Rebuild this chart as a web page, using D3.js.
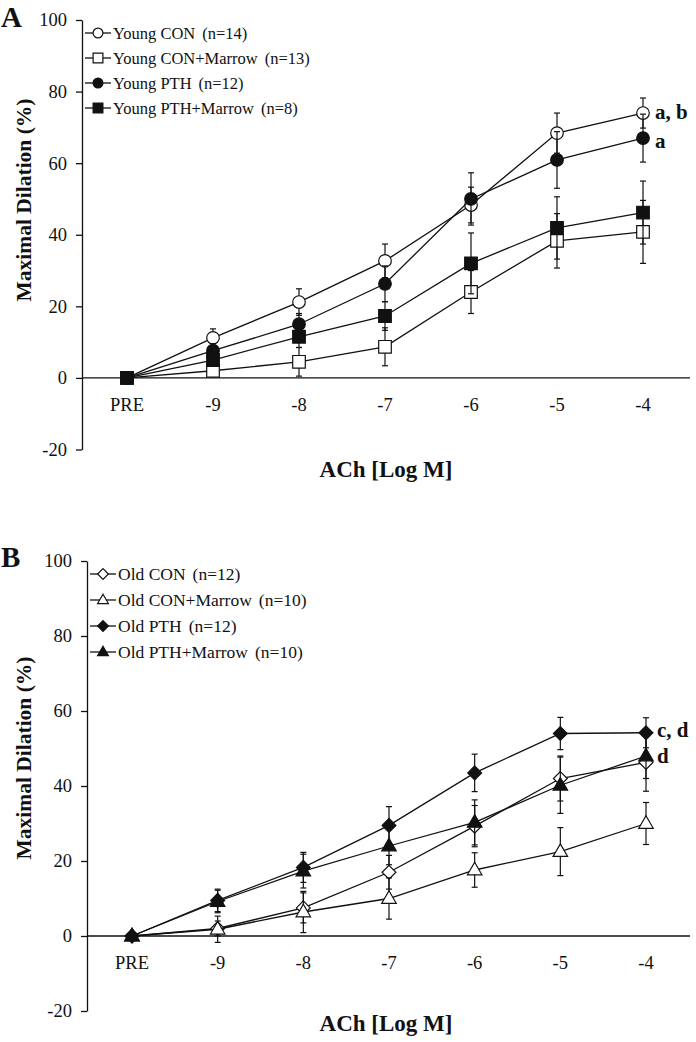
<!DOCTYPE html>
<html>
<head>
<meta charset="utf-8">
<script src="https://cdn.jsdelivr.net/npm/d3@7"></script>
<style>
html,body{margin:0;padding:0;background:#fff;}
svg{display:block;}
text{font-family:"Liberation Serif","Times New Roman",serif;fill:#111;}
</style>
</head>
<body>
<script>
// ---------- data ----------
const categories = ["PRE", "-9", "-8", "-7", "-6", "-5", "-4"];
const yTicks = [-20, 0, 20, 40, 60, 80, 100];

// Panel A (young)
const youngNames = ["Young CON", "Young CON+Marrow", "Young PTH", "Young PTH+Marrow"];
const youngN = ["(n=14)", "(n=13)", "(n=12)", "(n=8)"];
const youngCon        = [0, 11.2, 21.2, 32.7, 48.3, 68.4, 74.0];
const youngConErr     = [0, 2.5, 3.7, 4.7, 5.0, 5.6, 4.2];
const youngConMar     = [0, 2.0, 4.5, 8.7, 24.0, 38.3, 40.8];
const youngConMarErr  = [0, 1.5, 4.0, 5.3, 6.0, 7.6, 8.8];
const youngPth        = [0, 7.6, 15.0, 26.3, 50.0, 60.9, 67.0];
const youngPthErr     = [0, 2.0, 3.0, 5.0, 7.3, 7.9, 6.7];
const youngPthMar     = [0, 5.0, 11.5, 17.3, 32.0, 41.9, 46.2];
const youngPthMarErr  = [0, 1.5, 3.0, 4.0, 8.5, 8.7, 8.8];
const youngNotes = ["a, b", "a"];

// Panel B (old)
const oldNames = ["Old CON", "Old CON+Marrow", "Old PTH", "Old PTH+Marrow"];
const oldN = ["(n=12)", "(n=10)", "(n=12)", "(n=10)"];
const oldCon        = [0, 2.0, 7.5, 17.0, 29.3, 42.0, 46.3];
const oldConErr     = [0, 2.0, 4.0, 4.5, 5.5, 6.0, 7.7];
const oldConMar     = [0, 1.8, 6.4, 10.0, 17.6, 22.5, 30.0];
const oldConMarErr  = [0, 3.5, 5.5, 5.5, 4.6, 6.4, 5.6];
const oldPth        = [0, 9.5, 18.3, 29.5, 43.5, 54.0, 54.2];
const oldPthErr     = [0, 3.0, 4.0, 5.0, 5.0, 4.3, 4.0];
const oldPthMar     = [0, 9.2, 17.3, 24.0, 30.3, 40.2, 48.0];
const oldPthMarErr  = [0, 3.0, 4.5, 5.0, 6.0, 7.5, 6.0];
const oldNotes = ["c, d", "d"];

// ---------- drawing ----------
const W = 696, H = 1042;
const svg = d3.select("body").append("svg").attr("width", W).attr("height", H);
svg.append("rect").attr("width", W).attr("height", H).attr("fill", "#fff");

function markerPath(shape, s) {
  if (shape === "circle") return d3.symbol(d3.symbolCircle, Math.PI * s * s)();
  if (shape === "square") return d3.symbol(d3.symbolSquare, 4 * s * s)();
  if (shape === "diamond") return `M0,${-s * 1.1}L${s * 1.1},0L0,${s * 1.1}L${-s * 1.1},0Z`;
  if (shape === "triangle") { const a = s * 2.2; const h = a * Math.sqrt(3) / 2; return `M0,${-h * 0.62}L${a / 2},${h * 0.38}L${-a / 2},${h * 0.38}Z`; }
}

function drawPanel(cfg) {
  const g = svg.append("g");
  const x = d3.scalePoint().domain(categories).range([cfg.xAxis + cfg.padL, cfg.xEnd - cfg.padR]);
  const y = d3.scaleLinear().domain([-20, 100]).range([cfg.yBottom, cfg.yTop]);

  // y axis
  const ya = g.append("g").attr("transform", `translate(${cfg.xAxis},0)`)
    .call(d3.axisLeft(y).tickValues(yTicks).tickFormat(d => String(d)).tickSize(6).tickSizeOuter(0).tickPadding(9));
  ya.select(".domain").attr("stroke", "#111").attr("stroke-width", 1.3);
  ya.selectAll(".tick line").attr("stroke", "#111").attr("stroke-width", 1.3);
  ya.selectAll(".tick text").style("font-family", "Liberation Serif").style("font-size", "18.5px").attr("fill", "#111");

  // x axis line at 0
  g.append("line").attr("x1", cfg.xAxis).attr("x2", cfg.xEnd).attr("y1", y(0)).attr("y2", y(0))
    .attr("stroke", "#111").attr("stroke-width", 1.3);
  g.selectAll("text.xt").data(categories).join("text").attr("class", "xt")
    .attr("x", d => x(d)).attr("y", y(0) + cfg.xLabOff).attr("text-anchor", "middle")
    .style("font-size", "18.5px").text(d => d);

  // series
  cfg.series.forEach(s => {
    const pts = categories.map((c, i) => ({ c, v: s.values[i], e: s.err[i] }));
    g.append("path").datum(pts)
      .attr("d", d3.line().x(d => x(d.c)).y(d => y(d.v)))
      .attr("fill", "none").attr("stroke", "#111").attr("stroke-width", 1.3);
    const eb = g.append("g");
    pts.filter(d => d.e > 0).forEach(d => {
      const cx = x(d.c);
      eb.append("line").attr("x1", cx).attr("x2", cx).attr("y1", y(d.v - d.e)).attr("y2", y(d.v + d.e));
      [d.v - d.e, d.v + d.e].forEach(v => eb.append("line").attr("x1", cx - 3).attr("x2", cx + 3).attr("y1", y(v)).attr("y2", y(v)));
    });
    eb.selectAll("line").attr("stroke", "#111").attr("stroke-width", 1.2);
    g.selectAll(null).data(pts).join("path")
      .attr("transform", d => `translate(${x(d.c)},${y(d.v)})`)
      .attr("d", markerPath(s.shape, s.shape === "triangle" ? 6.6 : 6.3))
      .attr("fill", s.filled ? "#111" : "#fff").attr("stroke", "#111").attr("stroke-width", 1.2);
  });

  // legend
  cfg.series.forEach((s, i) => {
    const ly = cfg.legendY[i];
    const lx = cfg.xAxis + 3;
    g.append("line").attr("x1", lx).attr("x2", lx + 26).attr("y1", ly).attr("y2", ly)
      .attr("stroke", "#111").attr("stroke-width", 1.3);
    g.append("path").attr("transform", `translate(${lx + 13},${ly})`)
      .attr("d", markerPath(s.shape, 4.9))
      .attr("fill", s.filled ? "#111" : "#fff").attr("stroke", "#111").attr("stroke-width", 1.2);
    const t = g.append("text").attr("x", lx + 28).attr("y", ly + 6).style("font-size", cfg.legendFs + "px");
    t.append("tspan").text(s.name);
    t.append("tspan").attr("dx", 7).text(s.n);
  });

  // panel letter
  g.append("text").attr("x", 1).attr("y", cfg.letterY).style("font-size", "29px").style("font-weight", "bold").text(cfg.letter);
  // y label
  g.append("text").attr("transform", `translate(${cfg.yLabX},${cfg.yLabY}) rotate(-90)`).attr("text-anchor", "middle")
    .style("font-size", "21.5px").style("font-weight", "bold").text("Maximal Dilation (%)");
  // x label
  g.append("text").attr("x", 386).attr("y", cfg.xLabY).attr("text-anchor", "middle")
    .style("font-size", "23px").style("font-weight", "bold").text("ACh [Log M]");
  // annotations
  cfg.notes.forEach((n, i) => {
    g.append("text").attr("x", cfg.noteX).attr("y", cfg.noteY[i]).style("font-size", "21px").style("font-weight", "bold").text(n);
  });
}

drawPanel({
  letter: "A", letterY: 27,
  xAxis: 82, xEnd: 690, padL: 45, padR: 47,
  yTop: 20, yBottom: 449.5, xLabOff: 33,
  yLabX: 31, yLabY: 200, xLabY: 477,
  legendY: [33, 58, 83, 108], legendFs: 16.5,
  noteX: 655, noteY: [119, 148],
  notes: youngNotes,
  series: [
    { name: youngNames[0], n: youngN[0], values: youngCon, err: youngConErr, shape: "circle", filled: false },
    { name: youngNames[1], n: youngN[1], values: youngConMar, err: youngConMarErr, shape: "square", filled: false },
    { name: youngNames[2], n: youngN[2], values: youngPth, err: youngPthErr, shape: "circle", filled: true },
    { name: youngNames[3], n: youngN[3], values: youngPthMar, err: youngPthMarErr, shape: "square", filled: true }
  ]
});

drawPanel({
  letter: "B", letterY: 567,
  xAxis: 87, xEnd: 690, padL: 45, padR: 44,
  yTop: 561, yBottom: 1011, xLabOff: 33,
  yLabX: 31, yLabY: 758, xLabY: 1031,
  legendY: [574, 600, 626, 652], legendFs: 17.5,
  noteX: 657, noteY: [737, 763],
  notes: oldNotes,
  series: [
    { name: oldNames[0], n: oldN[0], values: oldCon, err: oldConErr, shape: "diamond", filled: false },
    { name: oldNames[1], n: oldN[1], values: oldConMar, err: oldConMarErr, shape: "triangle", filled: false },
    { name: oldNames[2], n: oldN[2], values: oldPth, err: oldPthErr, shape: "diamond", filled: true },
    { name: oldNames[3], n: oldN[3], values: oldPthMar, err: oldPthMarErr, shape: "triangle", filled: true }
  ]
});
</script>
</body>
</html>
